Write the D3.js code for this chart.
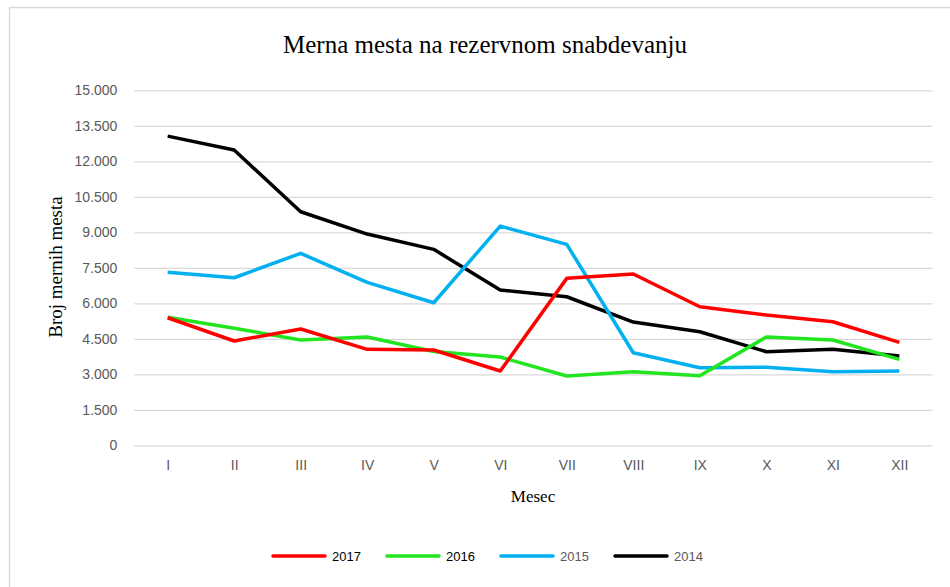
<!DOCTYPE html>
<html lang="sr">
<head>
<meta charset="UTF-8">
<title>Merna mesta na rezervnom snabdevanju</title>
<script src="https://d3js.org/d3.v7.min.js"></script>
<style>
  body { margin: 0; background: #fff; }
  .grid line { stroke: #d9d9d9; stroke-width: 1.3; }
  .grid path { display: none; }
  .line { fill: none; stroke-width: 3.5; stroke-linejoin: round; }
</style>
</head>
<body>
<div class="chart"></div>
<script>
// data
var months = ["I", "II", "III", "IV", "V", "VI", "VII", "VIII", "IX", "X", "XI", "XII"];
var years = ["2017", "2016", "2015", "2014"];
var y2017 = [5390, 4406, 4913, 4055, 4026, 3138, 7054, 7236, 5855, 5504, 5221, 4351];
var y2016 = [5407, 4950, 4448, 4575, 3960, 3730, 2927, 3109, 2940, 4575, 4448, 3633];
var y2015 = [7308, 7080, 8110, 6885, 6024, 9263, 8490, 3912, 3278, 3295, 3109, 3138];
var y2014 = [13065, 12474, 9868, 8925, 8279, 6560, 6277, 5208, 4799, 3954, 4055, 3772];
var yTicks = [0, 1500, 3000, 4500, 6000, 7500, 9000, 10500, 12000, 13500, 15000];

var series = [
  {name: "2017", values: y2017, color: "#ff0000", text: "#000"},
  {name: "2016", values: y2016, color: "#22e51f", text: "#000"},
  {name: "2015", values: y2015, color: "#00b0f0", text: "#595959"},
  {name: "2014", values: y2014, color: "#000000", text: "#595959"}
];

var W = 950, H = 587;
var margin = {top: 90.3, right: 17.4, bottom: 141.7, left: 134.4},
    width = W - margin.left - margin.right,
    height = H - margin.top - margin.bottom;

var svg = d3.select(".chart").append("svg")
    .attr("width", W)
    .attr("height", H);

// chart frame (only top and left edges are in view)
svg.append("path")
    .attr("d", "M9.5,587 V7.5 H950")
    .attr("fill", "none")
    .attr("stroke", "#d9d9d9")
    .attr("stroke-width", 1.3);

var g = svg.append("g")
    .attr("transform", "translate(" + margin.left + "," + margin.top + ")");

var x = d3.scalePoint()
    .domain(months)
    .range([0, width])
    .padding(0.5);
var y = d3.scaleLinear()
    .domain([0, 15000])
    .range([height, 0]);

var fmt = function(d) { return d3.format(",")(d).replace(/,/g, "."); };

// gridlines + y labels
var yAxis = g.append("g")
    .attr("class", "grid")
    .call(d3.axisLeft(y).tickValues(yTicks).tickSize(-width).tickFormat(fmt).tickPadding(17));
yAxis.selectAll("text")
    .attr("fill", "#595959")
    .style("font-family", "Liberation Sans, Arial, sans-serif")
    .style("font-size", "14px");

// x labels
var xAxis = g.append("g")
    .attr("transform", "translate(0," + height + ")")
    .call(d3.axisBottom(x).tickSize(0).tickPadding(15));
xAxis.select(".domain").remove();
xAxis.selectAll("text")
    .attr("fill", "#595959")
    .style("font-family", "Liberation Sans, Arial, sans-serif")
    .style("font-size", "14px");

var line = d3.line()
    .x(function(d, i) { return x(months[i]); })
    .y(function(d) { return y(d); });

// draw in reverse so 2017 sits on top
series.slice().reverse().forEach(function(s) {
  g.append("path")
      .datum(s.values)
      .attr("class", "line")
      .attr("stroke", s.color)
      .attr("d", line);
});

// title
svg.append("text")
    .attr("x", 485)
    .attr("y", 53)
    .attr("text-anchor", "middle")
    .style("font-family", "Liberation Serif, Times New Roman, serif")
    .style("font-size", "25px")
    .text("Merna mesta na rezervnom snabdevanju");

// axis titles
svg.append("text")
    .attr("transform", "translate(62,267) rotate(-90)")
    .attr("text-anchor", "middle")
    .style("font-family", "Liberation Serif, Times New Roman, serif")
    .style("font-size", "19px")
    .text("Broj mernih mesta");

svg.append("text")
    .attr("x", 533)
    .attr("y", 502)
    .attr("text-anchor", "middle")
    .style("font-family", "Liberation Serif, Times New Roman, serif")
    .style("font-size", "17px")
    .text("Mesec");

// legend
var L = svg.selectAll(".legend")
    .data(series)
    .enter().append("g")
    .attr("class", "legend")
    .attr("transform", function(d, i) { return "translate(" + (273 + i * 114) + ",556)"; });

L.append("line")
    .attr("x1", 0).attr("x2", 52)
    .attr("stroke", function(d) { return d.color; })
    .attr("stroke-width", 3.5)
    .attr("stroke-linecap", "round");

L.append("text")
    .attr("x", 59)
    .attr("y", 5)
    .attr("fill", function(d) { return d.text; })
    .style("font-family", "Liberation Sans, Arial, sans-serif")
    .style("font-size", "13px")
    .text(function(d) { return d.name; });
</script>
</body>
</html>
